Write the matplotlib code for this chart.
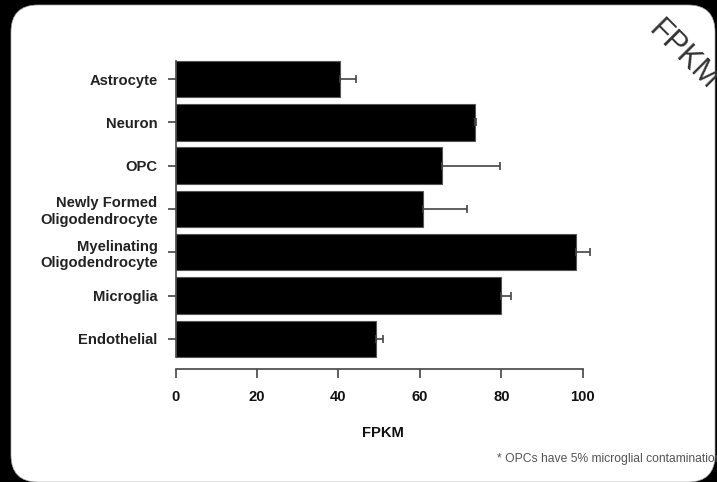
import matplotlib
matplotlib.use("Agg")
import matplotlib.pyplot as plt
from matplotlib.patches import FancyBboxPatch
import numpy as np

# values
cell_types = ["Astrocyte", "Neuron", "OPC", "Newly Formed\nOligodendrocyte",
              "Myelinating\nOligodendrocyte", "Microglia", "Endothelial"]
fpkm = [40.4, 73.5, 65.4, 60.7, 98.4, 80.0, 49.3]
fpkm_err = [4.0, 0.3, 14.4, 11.0, 3.4, 2.3, 1.7]
x_ticks = [0, 20, 40, 60, 80, 100]

plt.rcParams['font.family'] = ['Liberation Sans', 'DejaVu Sans']

fig = plt.figure(figsize=(7.17, 4.82), dpi=100, facecolor='black')

# white rounded card on the black slide background (drawn behind the axes)
card = FancyBboxPatch((0.11, 0.0), 7.04, 4.77,
                      boxstyle="round,pad=0,rounding_size=0.27",
                      transform=fig.dpi_scale_trans,
                      facecolor='white', edgecolor='#aaaaaa', linewidth=0.5,
                      zorder=-10)
fig.patches.append(card)

ax = fig.add_axes([0.245, 0.2344, 0.6244, 0.6466])
ax.set_facecolor('none')

y = np.arange(len(cell_types))
ax.barh(y, fpkm, height=0.84, color='black', edgecolor='#555555', linewidth=0.8,
        xerr=[np.zeros(len(fpkm)), fpkm_err],
        error_kw=dict(ecolor='#444444', elinewidth=1.2, capsize=3, capthick=1.2))

ax.set_xlim(0, 110)
ax.set_ylim(6.697, -0.5)

for side in ['top', 'right']:
    ax.spines[side].set_visible(False)
ax.spines['left'].set_bounds(-0.42, 6.42)
ax.spines['bottom'].set_bounds(0, 100)
for side in ['left', 'bottom']:
    ax.spines[side].set_color('#444444')
    ax.spines[side].set_linewidth(1.2)

ax.set_yticks(y)
ax.set_yticklabels(cell_types, fontsize=10.6, fontweight='bold', color='#222222',
                   linespacing=1.25)
ax.set_xticks(x_ticks)
ax.set_xticklabels([str(t) for t in x_ticks], fontsize=10.6, fontweight='bold',
                   color='#111111')
ax.tick_params(axis='y', length=6, width=1.2, color='#444444', pad=7)
ax.tick_params(axis='x', length=6.5, width=1.2, color='#444444', pad=8.5)

ax.set_xlabel('FPKM', fontsize=10.6, fontweight='bold', color='#111111')
ax.xaxis.set_label_coords(0.463, -0.183)

# slide decorations (cut off at the right edge, as in the slide)
fig.text(683 / 717, 1 - 55 / 482, 'FPKM', rotation=-45, rotation_mode='anchor',
         ha='center', va='center', fontsize=22, color='#333333')
fig.text(497 / 717, 1 - 459 / 482, '* OPCs have 5% microglial contamination',
         ha='left', va='center', fontsize=8.7, color='#555555')

fig.savefig('out.png', dpi=100, facecolor='black')
